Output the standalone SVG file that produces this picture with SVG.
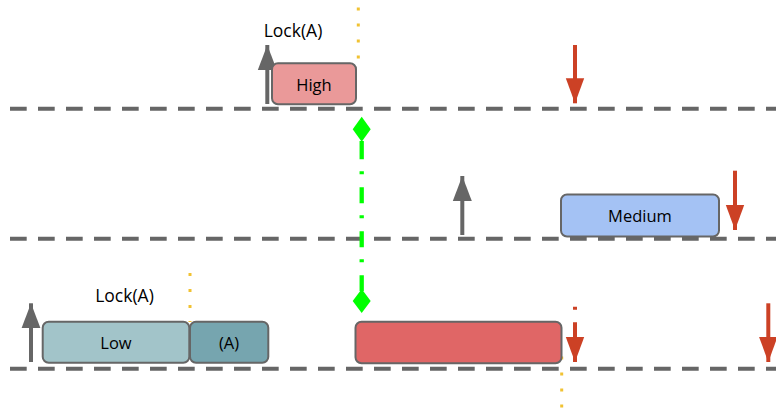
<svg xmlns="http://www.w3.org/2000/svg" width="776" height="409" viewBox="0 0 776 409">
  <style>
    .lane { stroke: #666666; stroke-width: 4; stroke-dasharray: 16.7 11.3; fill: none; }
    .box { stroke: #666666; stroke-width: 2; }
    .lbl { font-family: "Open Sans", "Liberation Sans", sans-serif; font-size: 16.5px; fill: #000000; text-anchor: middle; }
    .lock { font-size: 17.5px; }
    .dot { stroke: #f1c232; stroke-width: 3; stroke-dasharray: 3 13; fill: none; }
    .up { stroke: #666666; stroke-width: 4; fill: none; }
    .down { stroke: #cc4125; stroke-width: 4; fill: none; }
  </style>
  <defs>
    <marker id="headGrayA" markerUnits="userSpaceOnUse" markerWidth="26" markerHeight="20" viewBox="0 0 26 20" refX="25" refY="10" orient="auto">
      <path d="M0,0.5 L25,10 L0,19.5 Z" fill="#666666"/>
    </marker>
    <marker id="headRed" markerUnits="userSpaceOnUse" markerWidth="26" markerHeight="20" viewBox="0 0 26 20" refX="25" refY="10" orient="auto">
      <path d="M0,0.8 L25,10 L0,19.2 Z" fill="#cc4125"/>
    </marker>
  </defs>

  <g id="lanes">
    <line class="lane" x1="10" y1="108.8" x2="776" y2="108.8"/>
    <line class="lane" x1="10" y1="238.8" x2="776" y2="238.8"/>
    <line class="lane" x1="10" y1="368.8" x2="776" y2="368.8"/>
  </g>

  <g id="markers-dotted">
    <line class="dot" x1="358.3" y1="7.5" x2="358.3" y2="62"/>
    <line class="dot" x1="190" y1="273" x2="190" y2="322"/>
    <line class="dot" x1="561.7" y1="356.5" x2="561.7" y2="409"/>
  </g>

  <g id="connectors">
    <line class="up" x1="267.3" y1="104" x2="267.3" y2="45" marker-end="url(#headGrayA)"/>
    <line class="up" x1="462.3" y1="235" x2="462.3" y2="176" marker-end="url(#headGrayA)"/>
    <line class="up" x1="31" y1="362" x2="31" y2="303.3" marker-end="url(#headGrayA)"/>
    <line class="down" x1="575" y1="45" x2="575" y2="103.3" marker-end="url(#headRed)"/>
    <line class="down" x1="735" y1="170.7" x2="735" y2="230" marker-end="url(#headRed)"/>
    <line class="down" x1="575" y1="306.7" x2="575" y2="362" stroke-dasharray="3 12.5 80" marker-end="url(#headRed)"/>
    <line class="down" x1="768.3" y1="303.3" x2="768.3" y2="362" marker-end="url(#headRed)"/>
    <g id="inversion">
      <line x1="361.7" y1="141" x2="361.7" y2="291" stroke="#00ff00" stroke-width="4.3" stroke-dasharray="18.3 12 3 13 16 12 3 13 16 12 3 13 16 12 3 13 16 12"/>
      <path d="M361.7,116.7 L370.7,129.2 L361.7,141.7 L352.7,129.2 Z" fill="#00ff00"/>
      <path d="M361.7,289 L370.7,301 L361.7,313 L352.7,301 Z" fill="#00ff00"/>
    </g>
  </g>

  <g id="high">
    <rect class="box" x="272" y="63.3" width="84" height="41" rx="6" fill="#ea9999"/>
    <text class="lbl" x="314" y="90.5">High</text>
  </g>
  <g id="lockA-high">
    <text class="lbl lock" x="293" y="37">Lock(A)</text>
  </g>

  <g id="medium">
    <rect class="box" x="561" y="194.5" width="158" height="42" rx="6" fill="#a4c2f4"/>
    <text class="lbl" x="640" y="221.5">Medium</text>
  </g>

  <g id="low">
    <rect class="box" x="42.7" y="321.7" width="146.6" height="41" rx="6" fill="#a2c4c9"/>
    <text class="lbl" x="116" y="348.5">Low</text>
  </g>
  <g id="lowA">
    <rect class="box" x="190" y="321.7" width="78.3" height="41" rx="6" fill="#76a5af"/>
    <text class="lbl" x="229" y="348.5">(A)</text>
  </g>
  <g id="lockA-low">
    <text class="lbl lock" x="124.5" y="302">Lock(A)</text>
  </g>

  <g id="blocked">
    <rect class="box" x="355.5" y="321.7" width="206" height="41.6" rx="6" fill="#e06666"/>
  </g>
</svg>
